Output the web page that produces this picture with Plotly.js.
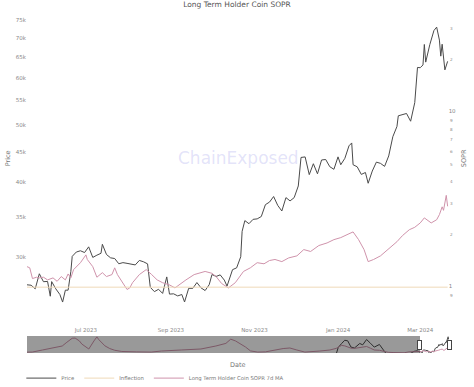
<!DOCTYPE html>
<html>
<head>
<meta charset="utf-8">
<script src="https://cdn.plot.ly/plotly-3.0.1.min.js"></script>
<style>html,body{margin:0;padding:0;background:#fff;}#chart{width:474px;height:387px;}</style>
</head>
<body>
<div id="chart"></div>
<script>
// ---- history (only visible in the range slider) ----
const histDates = ['2012-01-15','2012-03-15','2012-07-01','2012-11-01','2013-01-25','2013-03-15','2013-05-10','2013-06-10','2013-07-25','2013-08-20','2013-10-10','2013-11-01','2013-12-25','2014-01-25','2014-02-15','2014-03-15','2014-04-20','2014-06-10','2014-08-01','2014-10-15','2015-01-25','2015-03-15','2015-08-20','2015-12-05','2016-07-01','2017-01-25','2017-07-01','2017-10-15','2017-12-05','2018-01-25','2018-05-10','2018-07-01','2018-09-15','2018-12-05','2019-06-10','2019-08-20','2019-11-01','2020-01-25','2020-07-01','2020-10-15','2020-12-20','2021-01-10','2021-02-15','2021-03-20','2021-04-20','2021-05-25','2021-07-01','2021-08-25','2021-09-25','2021-11-05','2021-12-15','2022-01-25','2022-03-20','2022-05-10','2022-06-20','2022-08-20','2022-12-05','2023-01-25','2023-03-20','2023-04-20','2023-05-12'];
const histPrice = [6,5,8,11,18,70,115,110,95,110,130,200,700,850,650,560,450,640,590,380,250,270,230,390,670,920,2500,5200,11500,11000,9100,6400,6500,3700,9000,10200,9200,8500,9100,11400,23500,36000,47000,58000,56000,37000,35000,47000,43000,61000,48000,37000,44000,31000,20000,21000,17000,23000,28000,29000,27000];
const histSopr = [0.98,1.0,1.6,2.5,3.9,9,22,23,12,6,3.0,2.0,12,30,16,9,4,2.2,1.5,1.15,1.0,1.05,1.0,1.27,1.6,2.0,3.9,7,18,12,3.1,1.3,1.0,1.05,2.2,2.5,1.6,1.0,1.27,1.6,2.3,2.8,4.5,4.0,3.2,2.4,2.3,2.6,2.8,3.5,2.4,1.6,1.5,1.2,0.95,0.9,0.86,1.05,1.15,1.25,1.3];

// ---- visible period: BTC price ----
const priceDates = ['2023-05-19','2023-05-22','2023-05-25','2023-05-28','2023-05-31','2023-06-03','2023-06-05','2023-06-06','2023-06-09','2023-06-12','2023-06-14','2023-06-16','2023-06-18','2023-06-20','2023-06-21','2023-06-24','2023-06-27','2023-06-30','2023-07-03','2023-07-06','2023-07-09','2023-07-12','2023-07-13','2023-07-16','2023-07-19','2023-07-22','2023-07-25','2023-07-28','2023-07-31','2023-08-03','2023-08-06','2023-08-09','2023-08-12','2023-08-15','2023-08-17','2023-08-20','2023-08-23','2023-08-26','2023-08-29','2023-08-31','2023-09-03','2023-09-06','2023-09-09','2023-09-11','2023-09-14','2023-09-17','2023-09-20','2023-09-23','2023-09-26','2023-09-29','2023-10-01','2023-10-04','2023-10-07','2023-10-10','2023-10-12','2023-10-16','2023-10-19','2023-10-22','2023-10-23','2023-10-25','2023-10-28','2023-10-31','2023-11-03','2023-11-06','2023-11-09','2023-11-12','2023-11-15','2023-11-18','2023-11-21','2023-11-24','2023-11-27','2023-11-30','2023-12-03','2023-12-05','2023-12-08','2023-12-11','2023-12-14','2023-12-17','2023-12-20','2023-12-23','2023-12-26','2023-12-29','2024-01-01','2024-01-03','2024-01-06','2024-01-09','2024-01-11','2024-01-12','2024-01-15','2024-01-18','2024-01-21','2024-01-23','2024-01-26','2024-01-29','2024-02-01','2024-02-04','2024-02-07','2024-02-10','2024-02-13','2024-02-14','2024-02-17','2024-02-20','2024-02-23','2024-02-26','2024-02-28','2024-03-01','2024-03-03','2024-03-04','2024-03-05','2024-03-08','2024-03-11','2024-03-13','2024-03-15','2024-03-16','2024-03-17','2024-03-19','2024-03-21'];
const priceValues = [26900,26850,26480,28070,27220,27250,25730,27230,26480,25900,25150,26340,26340,28310,30030,30540,30690,30480,31160,29910,30170,30390,31470,30250,29860,29780,29180,29310,29230,29170,29050,29560,29410,29170,26630,26190,26430,26010,27730,25940,25970,25760,25900,25160,26530,26530,27130,26580,26300,26910,27990,27780,27950,27390,26760,28520,28720,29990,33090,34500,34090,34670,34730,35050,36700,37070,37880,36600,35810,37720,37240,37720,39460,44080,44170,41240,43020,41370,43650,43730,42520,42100,44180,42850,43930,46110,46630,42850,42510,41270,41580,39880,41810,43290,43080,42580,44340,47770,49700,51810,52120,52280,50730,54520,62500,62430,63110,68330,63800,68300,72120,73080,69500,65300,68390,61910,64000];

// ---- visible period: LTH SOPR 7d MA ----
const soprDates = ['2023-05-19','2023-05-21','2023-05-23','2023-05-26','2023-05-28','2023-05-31','2023-06-03','2023-06-07','2023-06-10','2023-06-13','2023-06-16','2023-06-18','2023-06-20','2023-06-22','2023-06-27','2023-07-01','2023-07-02','2023-07-06','2023-07-09','2023-07-13','2023-07-16','2023-07-20','2023-07-22','2023-07-24','2023-07-28','2023-07-31','2023-08-02','2023-08-04','2023-08-09','2023-08-14','2023-08-18','2023-08-22','2023-08-26','2023-08-31','2023-09-04','2023-09-08','2023-09-12','2023-09-18','2023-09-26','2023-10-01','2023-10-04','2023-10-08','2023-10-13','2023-10-18','2023-10-24','2023-10-29','2023-11-03','2023-11-08','2023-11-12','2023-11-16','2023-11-21','2023-11-26','2023-12-02','2023-12-07','2023-12-12','2023-12-18','2023-12-24','2023-12-29','2024-01-03','2024-01-09','2024-01-12','2024-01-16','2024-01-20','2024-01-23','2024-01-27','2024-02-01','2024-02-06','2024-02-10','2024-02-13','2024-02-17','2024-02-20','2024-02-22','2024-02-26','2024-03-01','2024-03-04','2024-03-09','2024-03-13','2024-03-15','2024-03-17','2024-03-18','2024-03-20','2024-03-21'];
const soprValues = [1.31,1.29,1.12,1.14,1.13,1.14,1.10,1.13,1.08,1.15,1.10,1.19,1.13,1.26,1.38,1.53,1.44,1.31,1.14,1.21,1.15,1.18,1.29,1.18,1.06,0.97,0.99,1.06,1.18,1.26,1.18,1.10,1.06,1.03,0.99,1.05,1.10,1.18,1.23,1.20,1.15,1.05,0.99,1.06,1.23,1.29,1.38,1.36,1.42,1.44,1.40,1.47,1.51,1.64,1.60,1.73,1.79,1.87,1.92,2.02,2.07,1.87,1.64,1.40,1.44,1.51,1.64,1.73,1.82,1.97,2.07,2.13,2.20,2.33,2.49,2.33,2.43,2.60,2.88,2.75,3.35,2.90];

const inflectionValue = 1;
const priceTickVals = [30000,35000,40000,45000,50000,55000,60000,65000,70000,75000];
const priceTickText = ['30k','35k','40k','45k','50k','55k','60k','65k','70k','75k'];
const viewRange = ['2023-05-19','2024-03-22'];
const sliderRange = ['2012-01-20','2024-03-22'];

const allPriceX = histDates.concat(priceDates);
const allPriceY = histPrice.concat(priceValues);
const allSoprX = histDates.concat(soprDates);
const allSoprY = histSopr.concat(soprValues);

const FONT = 'DejaVu Sans, Verdana, sans-serif';
const traces = [
  {x: allPriceX, y: allPriceY, name: 'Price', type: 'scatter', mode: 'lines',
   line: {color: '#4a4a4a', width: 1}, xaxis: 'x', yaxis: 'y'},
  {x: [allSoprX[0], allSoprX[allSoprX.length-1]], y: [inflectionValue, inflectionValue], name: 'Inflection',
   type: 'scatter', mode: 'lines', line: {color: '#efd9b8', width: 1}, xaxis: 'x2', yaxis: 'y2'},
  {x: allSoprX, y: allSoprY, name: 'Long Term Holder Coin SOPR 7d MA', type: 'scatter', mode: 'lines',
   line: {color: '#cf93ab', width: 1}, xaxis: 'x', yaxis: 'y2'}
];

const tickFont = {family: FONT, size: 5.5, color: '#888'};
const layout = {
  width: 474, height: 387,
  margin: {l: 27, r: 25, t: 14, b: 11},
  paper_bgcolor: '#fff', plot_bgcolor: '#fff',
  font: {family: FONT, size: 6, color: '#888'},
  title: {text: 'Long Term Holder Coin SOPR', x: 0.5, xanchor: 'center', y: 0.988, yanchor: 'middle',
          font: {family: FONT, size: 7.5, color: '#555'}},
  showlegend: true,
  legend: {orientation: 'h', xref: 'container', yref: 'container', x: 0.045, xanchor: 'left', y: 0.023, yanchor: 'middle',
           font: {family: FONT, size: 5.3, color: '#777'}, tracegroupgap: 0, traceorder: 'normal'},
  xaxis: {type: 'date', range: viewRange, anchor: 'y', showgrid: false, zeroline: false, showline: false,
          ticks: 'outside', ticklen: 18, tickcolor: 'rgba(0,0,0,0)', showticklabels: false, dtick: 'M2',
          tick0: '2023-07-01',
          rangeslider: {visible: true, range: sliderRange, thickness: 0.047, bgcolor: '#fff', borderwidth: 0}},
  xaxis2: {type: 'date', range: viewRange, anchor: 'y', overlaying: 'x', side: 'bottom', automargin: false,
           showgrid: false, zeroline: false, showline: false,
           ticks: 'outside', ticklen: 22, tickcolor: 'rgba(0,0,0,0)', tickformat: '%b %Y', dtick: 'M2',
           tick0: '2023-07-01', tickfont: tickFont},
  yaxis: {type: 'log', range: [Math.log10(25100), Math.log10(76900)], showgrid: false, zeroline: false,
          showline: false, tickvals: priceTickVals, ticktext: priceTickText, tickfont: tickFont,
          title: {text: 'Price', font: {family: FONT, size: 6.5, color: '#777'}, standoff: 4}},
  yaxis2: {type: 'log', overlaying: 'y', side: 'right', range: [Math.log10(0.816), Math.log10(36.5)],
           dtick: 'D1', showgrid: false, zeroline: false, showline: false, tickfont: tickFont,
           title: {text: 'SOPR', font: {family: FONT, size: 6.5, color: '#777'}, standoff: 6}},
  annotations: [
    {text: 'ChainExposed', xref: 'paper', yref: 'paper', x: 0.5, y: 0.5,
     showarrow: false, font: {family: FONT, size: 17, color: 'rgba(160,160,235,0.3)'}},
    {text: 'Date', xref: 'paper', yref: 'paper', x: 0.5, y: -0.2145, yanchor: 'middle',
     showarrow: false, font: {family: FONT, size: 6.5, color: '#777'}}
  ]
};

Plotly.newPlot('chart', traces, layout, {displayModeBar: false, staticPlot: true});
</script>
</body>
</html>
